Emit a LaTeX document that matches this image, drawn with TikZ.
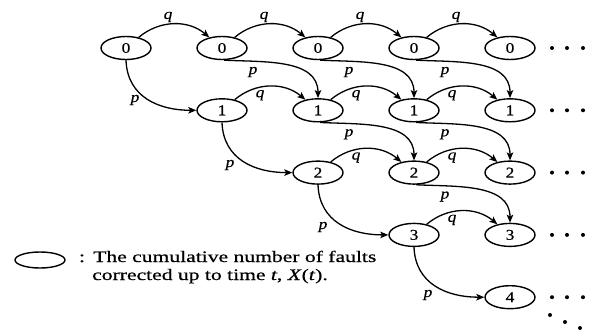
\documentclass[tikz,border=0pt]{standalone}
\usepackage{fontspec}
\setmainfont{Liberation Serif}
\newfontfamily\lblfont[FakeStretch=1.15,FakeBold=0.6]{Liberation Serif}
\newfontfamily\legfont[FakeStretch=1.35,FakeBold=0.6]{Liberation Serif}
\usetikzlibrary{shapes.geometric,arrows.meta,calc}
\begin{document}
\begin{tikzpicture}[x=1pt,y=1pt,
  state/.style={ellipse, draw, line width=1.4pt, minimum width=50pt, minimum height=23pt, inner sep=0pt, font=\lblfont\fontsize{15}{18}\selectfont},
  arr/.style={line width=1.3pt, -{Stealth[length=8pt,width=6.5pt,inset=1.8pt]}},
  lbl/.style={font=\lblfont\itshape\fontsize{15}{18}\selectfont, inner sep=0pt},
  legtxt/.style={font=\legfont\fontsize{16}{18}\selectfont, inner sep=0pt},
  dotm/.style={circle, fill, inner sep=0pt, minimum size=4pt}]
\fill[white] (0,0) rectangle (593,-332);
\useasboundingbox (0,0) rectangle (593,-332);
% states
\foreach \r in {0,...,4}{
  \foreach \c in {\r,...,4}{
    \node[state] (n\r\c) at ({126+96*\c},{-48-62.3*\r}) {\r};
  }
  \foreach \k/\xx in {a/552,b/567,c/583}
    \node[dotm] (d\r\k) at (\xx,{-48-62.3*\r}) {};
}
\node[dotm] (dd1) at (550,-315) {};
\node[dotm] (dd2) at (565,-322) {};
\node[dotm] (dd3) at (580,-328) {};
% q edges
\foreach \r in {0,...,3}{
  \foreach \c in {\r,...,3}{
    \pgfmathtruncatemacro\cn{\c+1}
    \draw[arr] (n\r\c.40) to[out=40,in=140] (n\r\cn.140);
  }
}
\foreach \c in {0,...,3}
  \node[lbl] (q0\c) at ({126+96*\c+42},-17) {q};
\foreach \r in {1,...,3}{
  \foreach \c in {\r,...,3}
    \node[lbl] (q\r\c) at ({126+96*\c+38},{-48-62.3*\r+15}) {q};
}
% diagonal p edges
\foreach \r in {0,...,2}{
  \pgfmathtruncatemacro\rn{\r+1}
  \pgfmathtruncatemacro\cs{\r+1}
  \foreach \c in {\cs,...,3}{
    \pgfmathtruncatemacro\cn{\c+1}
    \draw[arr] (n\r\c.-80) to[out=-3,in=90] (n\rn\cn.north);
    \node[lbl] (p\r\c) at ({126+96*\c+31},{-48-62.3*\r-24}) {p};
  }
}
% first p edges
\foreach \r in {0,...,3}{
  \pgfmathtruncatemacro\rn{\r+1}
  \draw[arr] (n\r\r.south) to[out=-88,in=180,looseness=1.1] (n\rn\rn.west);
}
\node[lbl] (pf0) at (135,-100) {p};
\node[lbl] (pf1) at (230,-165) {p};
\node[lbl] (pf2) at (323,-227) {p};
\node[lbl] (pf3) at (428,-295) {p};
% legend
\node[ellipse, draw, line width=1.4pt, minimum width=50pt, minimum height=16pt, inner sep=0pt] (leg) at (40,-260) {};
\node[legtxt, anchor=base] (colon) at (82,-262) {:};
\node[legtxt, anchor=base west] (leg1) at (93,-262) {The cumulative number of faults};
\node[legtxt, anchor=base west] (leg2) at (92,-280) {corrected up to time \textit{t}, \textit{X}(\textit{t}).};
\end{tikzpicture}
\end{document}
